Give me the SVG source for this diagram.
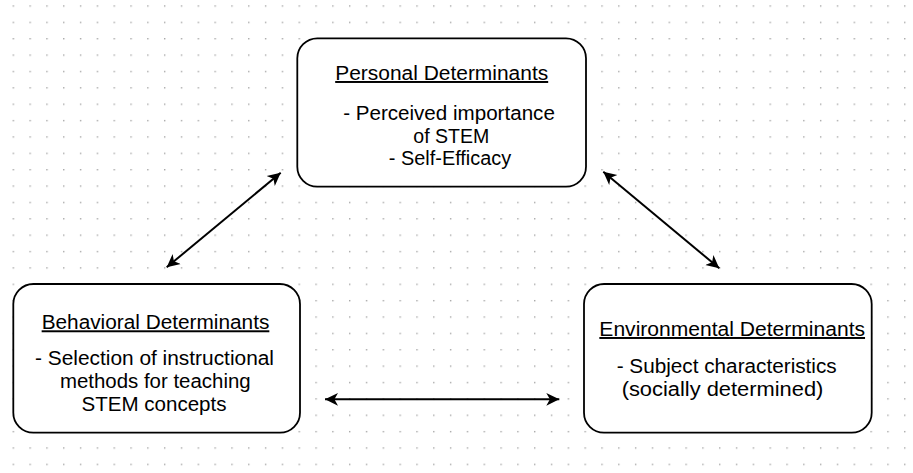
<svg xmlns="http://www.w3.org/2000/svg" width="913" height="473" viewBox="0 0 913 473">
<defs>
<pattern id="grid" patternUnits="userSpaceOnUse" x="12.6" y="5.3" width="16.82" height="16.37">
<rect x="0" y="0" width="1.4" height="1.4" fill="#a6a6a6"/>
</pattern>
<marker id="arr" markerUnits="userSpaceOnUse" markerWidth="14" markerHeight="14" viewBox="0 0 14 14" refX="13" refY="7" orient="auto-start-reverse">
<path d="M0,0.6 L13,7 L0,13.4 L3.6,7 Z" fill="#000"/>
</marker>
</defs>
<style>
.box{fill:#fff;stroke:#000;stroke-width:1.8}
.t{font-family:"Liberation Sans",Arial,sans-serif;font-size:19.6px;fill:#000;text-anchor:middle}
.u{text-decoration:underline}
.c{fill:none;stroke:#000;stroke-width:2}
</style>
<rect width="913" height="473" fill="#fff"/>
<rect width="913" height="473" fill="url(#grid)"/>
<g id="connectors">
<line class="c" x1="166.7" y1="267.3" x2="280.7" y2="172.7" marker-start="url(#arr)" marker-end="url(#arr)"/>
<line class="c" x1="603.3" y1="171.7" x2="719.3" y2="268.3" marker-start="url(#arr)" marker-end="url(#arr)"/>
<line class="c" x1="325" y1="399.3" x2="559.3" y2="399.3" marker-start="url(#arr)" marker-end="url(#arr)"/>
</g>
<g id="personal">
<rect class="box" x="297.3" y="38.3" width="288.7" height="148.4" rx="20" ry="20"/>
<text class="t u" x="441.7" y="80" textLength="213" lengthAdjust="spacingAndGlyphs">Personal Determinants</text>
<text class="t" x="449" y="120" textLength="211.7" lengthAdjust="spacingAndGlyphs">- Perceived importance</text>
<text class="t" x="451.3" y="142.7" textLength="76" lengthAdjust="spacingAndGlyphs">of STEM</text>
<text class="t" x="450" y="165" textLength="122.3" lengthAdjust="spacingAndGlyphs">- Self-Efficacy</text>
</g>
<g id="behavioral">
<rect class="box" x="13.3" y="284" width="286.7" height="148.7" rx="20" ry="20"/>
<text class="t u" x="155.5" y="329.3" textLength="227.7" lengthAdjust="spacingAndGlyphs">Behavioral Determinants</text>
<text class="t" x="154.5" y="365" textLength="239" lengthAdjust="spacingAndGlyphs">- Selection of instructional</text>
<text class="t" x="155.3" y="388" textLength="190.7" lengthAdjust="spacingAndGlyphs">methods for teaching</text>
<text class="t" x="154" y="410.5" textLength="145" lengthAdjust="spacingAndGlyphs">STEM concepts</text>
</g>
<g id="environmental">
<rect class="box" x="584" y="284" width="287.7" height="148.7" rx="20" ry="20"/>
<text class="t u" x="732.2" y="336" textLength="265.7" lengthAdjust="spacingAndGlyphs">Environmental Determinants</text>
<text class="t" x="726.7" y="372.7" textLength="220" lengthAdjust="spacingAndGlyphs">- Subject characteristics</text>
<text class="t" x="722.5" y="396" textLength="201.7" lengthAdjust="spacingAndGlyphs">(socially determined)</text>
</g>
</svg>
